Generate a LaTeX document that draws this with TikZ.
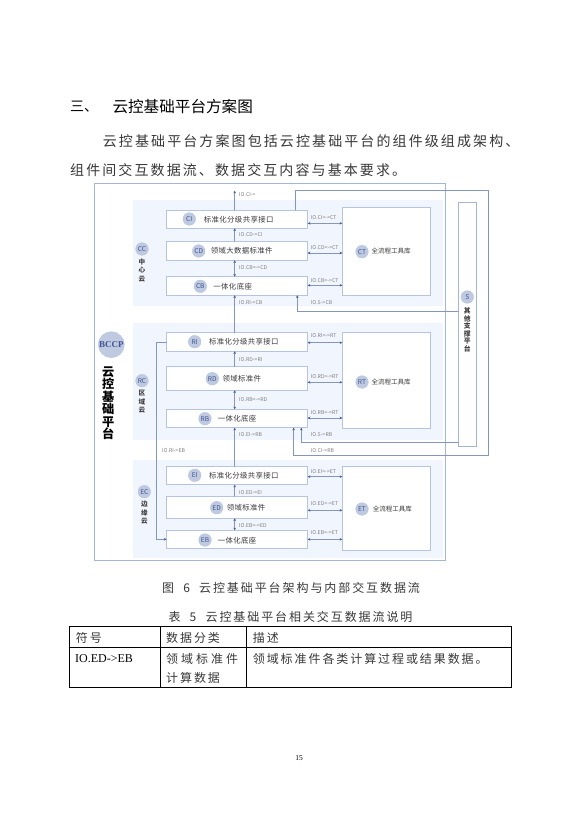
\documentclass[tikz,border=0pt]{standalone}
\usepackage{fontspec}
\usepackage{xcolor}
\usetikzlibrary{arrows.meta}
\newfontfamily\cjk{Noto Sans CJK SC}
\newfontfamily\cjkbody[LetterSpace=15]{Noto Sans CJK SC}
\newfontfamily\cjkcap[LetterSpace=16]{Noto Sans CJK SC}
\newfontfamily\cjkwide[LetterSpace=25]{Noto Sans CJK SC}
\newfontfamily\cjkmid[LetterSpace=5]{Noto Sans CJK SC}
\newfontfamily\latinserif{Liberation Serif}
\definecolor{framecol}{HTML}{A3B6DA}
\definecolor{panelcol}{HTML}{F1F5FD}
\definecolor{boxcol}{HTML}{B4C4E2}
\definecolor{linecol}{HTML}{8496BE}
\definecolor{tipcol}{HTML}{3F5A94}
\definecolor{badgecol}{HTML}{BFCAE1}
\definecolor{badgetext}{HTML}{3F5590}
\tikzset{
  panel/.style={fill=panelcol,draw=none},
  box/.style={draw=boxcol,fill=white,line width=0.8pt,inner sep=0pt,outer sep=0pt},
  flow/.style={draw=linecol,line width=0.8pt},
  tip/.style={>={Stealth[length=2.6pt,width=2.6pt,color=tipcol]}},
  badge/.style={circle,draw=boxcol,fill=badgecol,minimum size=12.6pt,inner sep=0pt,text=badgetext,font=\cjk\fontsize{6.6}{7}\selectfont},
  boxlabel/.style={text=black!78,inner sep=0pt,font=\cjkmid\fontsize{7.4}{8}\selectfont},
  toollabel/.style={text=black!78,inner sep=0pt,font=\cjk\fontsize{6.5}{7}\selectfont},
  cloudlabel/.style={text=black!75,inner sep=0pt,align=center,font=\cjk\bfseries\fontsize{6.6}{8.5}\selectfont},
  iolabel/.style={anchor=west,text=black!50,inner sep=0pt,font=\cjk\fontsize{5.2}{6}\selectfont},
  bodytext/.style={anchor=west,text=black!78,inner sep=0pt,font=\cjkbody\fontsize{14}{16}\selectfont},
  captext/.style={text=black!78,inner sep=0pt,font=\cjkcap\fontsize{12}{14}\selectfont},
  celltext/.style={anchor=west,text=black!78,inner sep=0pt,font=\cjkcap\fontsize{12}{14}\selectfont},
}
\begin{document}
\begin{tikzpicture}[x=1pt,y=-1pt,tip,line cap=round]
\useasboundingbox (0,0) rectangle (582,832);
\fill[white] (0,0) rectangle (582,832);
% page text above
\node[anchor=west,inner sep=0pt,font=\cjk\fontsize{14}{16}\selectfont] (headno) at (70,106.7) {三、};
\node[anchor=west,inner sep=0pt,font=\cjk\fontsize{15.6}{17}\selectfont] (headtext) at (112.3,106.7) {云控基础平台方案图};
\node[bodytext] (bodya) at (102.7,141) {云控基础平台方案图包括云控基础平台的组件级组成架构、};
\node[bodytext] (bodyb) at (70,170) {组件间交互数据流、数据交互内容与基本要求。};
% frame and panels
\draw[framecol,line width=0.9pt] (94.5,183) rectangle (445,560.7);
\fill[panel] (132.7,200) rectangle (443,306);
\fill[panel] (132.7,322.7) rectangle (443,440);
\fill[panel] (132.7,460) rectangle (443,558);
% boxes
\node[box,minimum width=141.2pt,minimum height=18.3pt] (ci) at (237.1,219.2) {};
\node[box,minimum width=141.2pt,minimum height=19pt] (cd) at (237.1,250.8) {};
\node[box,minimum width=141.2pt,minimum height=18.6pt] (cb) at (237.1,286) {};
\node[box,minimum width=141.2pt,minimum height=18.6pt] (ri) at (237.1,342) {};
\node[box,minimum width=141.2pt,minimum height=23.6pt] (rd) at (237.1,378.5) {};
\node[box,minimum width=141.2pt,minimum height=18.4pt] (rb) at (237.1,418.5) {};
\node[box,minimum width=141.2pt,minimum height=18.4pt] (ei) at (237.1,475.5) {};
\node[box,minimum width=141.2pt,minimum height=22pt] (ed) at (237.1,507.3) {};
\node[box,minimum width=141.2pt,minimum height=18.4pt] (eb) at (237.1,539.5) {};
\node[box,minimum width=88pt,minimum height=88pt] (ct) at (386.3,251.3) {};
\node[box,minimum width=88pt,minimum height=95.6pt] (rt) at (386.3,380.5) {};
\node[box,minimum width=88pt,minimum height=84pt] (et) at (386.3,508.3) {};
% axis and bends of the connectors
\coordinate (axis) at (234.7,0);
\coordinate (citop) at (234.7,190.7);
\coordinate (outa) at (295,190);
\coordinate (outb) at (488.3,190);
\coordinate (outc) at (488.3,455.3);
\coordinate (outd) at (293.7,455.3);
\coordinate (scb) at (297.3,311.3);
\coordinate (srb) at (301.3,442.3);
\coordinate (rileft) at (156.7,342.3);
\coordinate (ebleft) at (156.7,539.3);
% vertical connectors
\draw[flow,->] (ci.north -| axis) -- (citop);
\draw[flow,->] (cd.north -| axis) -- (ci.south -| axis);
\draw[flow,<->] (cb.north -| axis) -- (cd.south -| axis);
\draw[flow,->] (ri.north -| axis) -- (cb.south -| axis);
\draw[flow,->] (rd.north -| axis) -- (ri.south -| axis);
\draw[flow,<->] (rb.north -| axis) -- (rd.south -| axis);
\draw[flow,->] (ei.north -| axis) -- (rb.south -| axis);
\draw[flow,->] (ed.north -| axis) -- (ei.south -| axis);
\draw[flow,<->] (eb.north -| axis) -- (ed.south -| axis);
% horizontal connectors
\draw[flow,<->] (ci.east |- 0,223.3) -- (ct.west |- 0,223.3);
\draw[flow,<->] (cd.east |- 0,253) -- (ct.west |- 0,253);
\draw[flow,<->] (cb.east |- 0,285.3) -- (ct.west |- 0,285.3);
\draw[flow,<->] (ri.east |- 0,342.7) -- (rt.west |- 0,342.7);
\draw[flow,<->] (rd.east |- 0,382.3) -- (rt.west |- 0,382.3);
\draw[flow,<->] (rb.east |- 0,418) -- (rt.west |- 0,418);
\draw[flow,<->] (ei.east |- 0,476.7) -- (et.west |- 0,476.7);
\draw[flow,<->] (ed.east |- 0,510.3) -- (et.west |- 0,510.3);
\draw[flow,<->] (eb.east |- 0,539.3) -- (et.west |- 0,539.3);
% support platform
\node[box,draw=framecol,minimum width=18.4pt,minimum height=243.3pt] (sp) at (467.5,324.3) {};
% long connectors
\draw[flow,->] (ci.north -| outa) -- (outa) -- (outb) -- (outc) -- (outd) -- (rb.south -| outd);
\draw[flow,->] (sp.west |- scb) -- (scb) -- (cb.south -| scb);
\draw[flow,->] (sp.west |- srb) -- (srb) -- (rb.south -| srb);
\draw[flow,->] (ri.west |- rileft) -- (rileft) -- (ebleft) -- (eb.west |- ebleft);
% badges in the boxes
\node[badge] (cib) at (189.3,219) {CI};
\node[badge] (cdb) at (198.7,251) {CD};
\node[badge] (cbb) at (200.3,286.3) {CB};
\node[badge] (rib) at (194.7,341.7) {RI};
\node[badge] (rdb) at (212.3,378.7) {RD};
\node[badge] (rbb) at (205,418.7) {RB};
\node[badge] (eib) at (194.7,475.3) {EI};
\node[badge] (edb) at (216.7,507.7) {ED};
\node[badge] (ebb) at (205,540) {EB};
\node[badge] (ctb) at (362,251.7) {CT};
\node[badge] (rtb) at (362,382) {RT};
\node[badge] (etb) at (362,509) {ET};
\node[badge] (ccb) at (142,249) {CC};
\node[badge] (rcb) at (142,380.7) {RC};
\node[badge] (ecb) at (144.3,491.7) {EC};
\node[badge] (spb) at (467.3,297) {S};
\node[badge,minimum size=26pt,font=\latinserif\bfseries\fontsize{9}{10}\selectfont] (bccp) at (111.3,344.7) {BCCP};
% box texts
\node[boxlabel] (citext) at (238.7,219.5) {标准化分级共享接口};
\node[boxlabel] (cdtext) at (241.7,251) {领域大数据标准件};
\node[boxlabel] (cbtext) at (232.7,286.5) {一体化底座};
\node[boxlabel] (ritext) at (243.8,342) {标准化分级共享接口};
\node[boxlabel] (rdtext) at (241.8,378.5) {领域标准件};
\node[boxlabel] (rbtext) at (237,419) {一体化底座};
\node[boxlabel] (eitext) at (243.8,476) {标准化分级共享接口};
\node[boxlabel] (edtext) at (246,508) {领域标准件};
\node[boxlabel] (ebtext) at (237,540.5) {一体化底座};
\node[toollabel] (cttext) at (391.2,251.5) {全流程工具库};
\node[toollabel] (rttext) at (391.2,382) {全流程工具库};
\node[toollabel] (ettext) at (392.3,509) {全流程工具库};
\node[cloudlabel] (cctext) at (142,270.3) {中\\心\\云};
\node[cloudlabel] (rctext) at (142,402) {区\\域\\云};
\node[cloudlabel] (ectext) at (144.3,513) {边\\缘\\云};
\node[cloudlabel,font=\cjk\bfseries\fontsize{6.8}{7.55}\selectfont] (sptext) at (467.3,330) {其\\他\\支\\撑\\平\\台};
\node[inner sep=0pt,align=center,font=\cjk\bfseries\fontsize{12.2}{12.5}\selectfont] (bccptext) at (108.3,403) {云\\控\\基\\础\\平\\台};
% flow labels
\node[iolabel] (ioa) at (239,194.7) {IO.CI->};
\node[iolabel] (iob) at (239,234.7) {IO.CD->CI};
\node[iolabel] (ioc) at (239,267.7) {IO.CB<->CD};
\node[iolabel] (iod) at (239,303) {IO.RI->CB};
\node[iolabel] (ioe) at (310.7,218) {IO.CI<->CT};
\node[iolabel] (iof) at (310.7,247.7) {IO.CD<->CT};
\node[iolabel] (iog) at (310.7,280.7) {IO.CB<->CT};
\node[iolabel] (ioh) at (310.7,303) {IO.S->CB};
\node[iolabel] (ioi) at (239,360) {IO.RD->RI};
\node[iolabel] (ioj) at (239,400) {IO.RB<->RD};
\node[iolabel] (iok) at (239,435) {IO.EI->RB};
\node[iolabel] (iol) at (310.7,336) {IO.RI<->RT};
\node[iolabel] (iom) at (310.7,376.7) {IO.RD<->RT};
\node[iolabel] (ion) at (310.7,413) {IO.RB<->RT};
\node[iolabel] (ioo) at (310.7,435) {IO.S->RB};
\node[iolabel] (iop) at (310.7,451) {IO.CI->RB};
\node[iolabel] (ioq) at (162,451) {IO.RI->EB};
\node[iolabel] (ior) at (239,492.3) {IO.ED->EI};
\node[iolabel] (ios) at (239,525.3) {IO.EB<->ED};
\node[iolabel] (iot) at (310.7,471.3) {IO.EI<->ET};
\node[iolabel] (iou) at (310.7,503.7) {IO.ED<->ET};
\node[iolabel] (iov) at (310.7,533) {IO.EB<->ET};
% captions and table
\node[captext] (figcap) at (291,588.3) {图\ \ 6\ \ 云控基础平台架构与内部交互数据流};
\node[captext] (tabcap) at (290.5,616.7) {表\ \ 5\ \ 云控基础平台相关交互数据流说明};
\draw[black,line width=0.7pt] (69.3,626.7) rectangle (511.3,687);
\draw[black,line width=0.7pt] (69.3,647) -- (511.3,647);
\draw[black,line width=0.7pt] (160.3,626.7) -- (160.3,687);
\draw[black,line width=0.7pt] (246.3,626.7) -- (246.3,687);
\node[celltext] (hsym) at (75.7,638) {符号};
\node[celltext] (hkind) at (166,638) {数据分类};
\node[celltext] (hdesc) at (252.7,638) {描述};
\node[anchor=west,inner sep=0pt,font=\latinserif\fontsize{12}{14}\selectfont] (csym) at (75,658.7) {IO.ED->EB};
\node[celltext,font=\cjkwide\fontsize{12}{14}\selectfont] (ckinda) at (166,658.7) {领域标准件};
\node[celltext] (ckindb) at (166,678.3) {计算数据};
\node[celltext] (cdesc) at (252.7,658.7) {领域标准件各类计算过程或结果数据。};
\node[inner sep=0pt,font=\latinserif\fontsize{7.5}{9}\selectfont] (pageno) at (299,758) {15};
\end{tikzpicture}
\end{document}
